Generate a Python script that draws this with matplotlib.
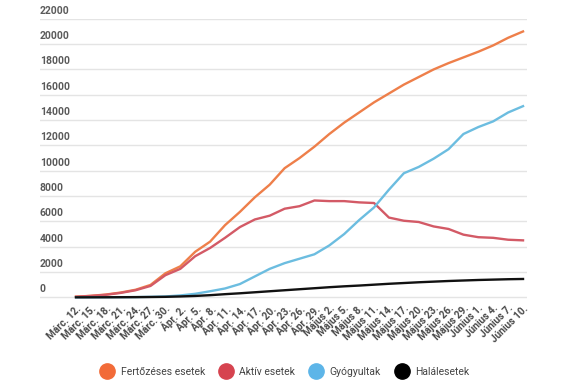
import matplotlib.pyplot as plt
from matplotlib.lines import Line2D
import matplotlib.transforms as mtransforms

plt.rcParams['font.family'] = ['Roboto', 'DejaVu Sans']

# days since Márc. 12., every third day
days = list(range(0, 91, 3))

tick_labels = ["Márc. 12.", "Márc. 15.", "Márc. 18.", "Márc. 21.", "Márc. 24.",
               "Márc. 27.", "Márc. 30.", "Ápr. 2.", "Ápr. 5.", "Ápr. 8.",
               "Ápr. 11.", "Ápr. 14.", "Ápr. 17.", "Ápr. 20.", "Ápr. 23.",
               "Ápr. 26.", "Ápr. 29.", "Május 2.", "Május 5.", "Május 8.",
               "Május 11.", "Május 14.", "Május 17.", "Május 20.", "Május 23.",
               "Május 26.", "Május 29.", "Június 1.", "Június 4.", "Június 7.",
               "Június 10."]

fertozeses = [50, 120, 220, 380, 600, 980, 1900, 2450, 3600, 4400, 5700,
              6750, 7900, 8900, 10200, 11000, 11900, 12900, 13800, 14600, 15400,
              16100, 16800, 17400, 18000, 18500, 18950, 19400, 19900, 20500, 21000]
aktiv = [50, 110, 200, 350, 560, 900, 1750, 2250, 3250, 3900, 4700,
         5550, 6150, 6450, 7000, 7200, 7650, 7600, 7600, 7500, 7450,
         6300, 6050, 5950, 5600, 5400, 4950, 4750, 4700, 4550, 4500]
gyogyultak = [0, 5, 10, 15, 20, 40, 70, 150, 280, 480, 700,
              1050, 1650, 2250, 2700, 3050, 3400, 4100, 5000, 6100, 7100,
              8500, 9800, 10300, 10950, 11700, 12900, 13450, 13900, 14600, 15100]
halal = [0, 2, 5, 10, 15, 25, 40, 70, 110, 170, 250,
         320, 400, 480, 560, 640, 720, 800, 870, 930, 1000,
         1070, 1130, 1190, 1240, 1290, 1330, 1370, 1400, 1430, 1450]

series = [
    ("Fertőzéses esetek", fertozeses, "#ee7f4a", "#f26b38"),
    ("Aktív esetek", aktiv, "#d35a66", "#d6434f"),
    ("Gyógyultak", gyogyultak, "#6cbde0", "#5db5e8"),
    ("Halálesetek", halal, "#111111", "#000000"),
]

y_ticks = list(range(0, 22001, 2000))

fig = plt.figure(figsize=(5.75, 3.87), dpi=100)
ax = fig.add_axes([40 / 575, 1 - 300.5 / 387, 487 / 575, (300.5 - 18.8) / 387])

for name, vals, col, _ in series:
    ax.plot(days, vals, color=col, lw=1.7, solid_joinstyle='round')

ax.set_xlim(-7.25, 90.8)
ax.set_ylim(-250, 22000)

for v in y_ticks:
    ax.axhline(v, color="#e4e4e4", lw=1, zorder=0)

trans = mtransforms.blended_transform_factory(ax.transAxes, ax.transData)
for v in y_ticks:
    ax.text(0, v + 250, str(v), transform=trans, ha='left', va='bottom',
            fontsize=7.5, color="#5a5a5a", fontweight='bold')

ax.set_yticks([])
ax.set_xticks(days)
ax.set_xticklabels(tick_labels, rotation=45, ha='right', rotation_mode='anchor',
                   fontsize=7.3, color="#4a4a4a", fontweight='bold')
ax.tick_params(axis='x', length=0, pad=2)
for s in ax.spines.values():
    s.set_visible(False)

handles = [Line2D([], [], marker='o', linestyle='none', markersize=11,
                  markerfacecolor=mc, markeredgecolor=mc) for _, _, _, mc in series]
fig.legend(handles, [s[0] for s in series], loc='center', ncol=4,
           bbox_to_anchor=(283 / 575, 1 - 372 / 387), frameon=False,
           fontsize=7.5, handletextpad=0.3, columnspacing=1.0,
           labelcolor="#444444")

fig.savefig("out.png", dpi=100)
